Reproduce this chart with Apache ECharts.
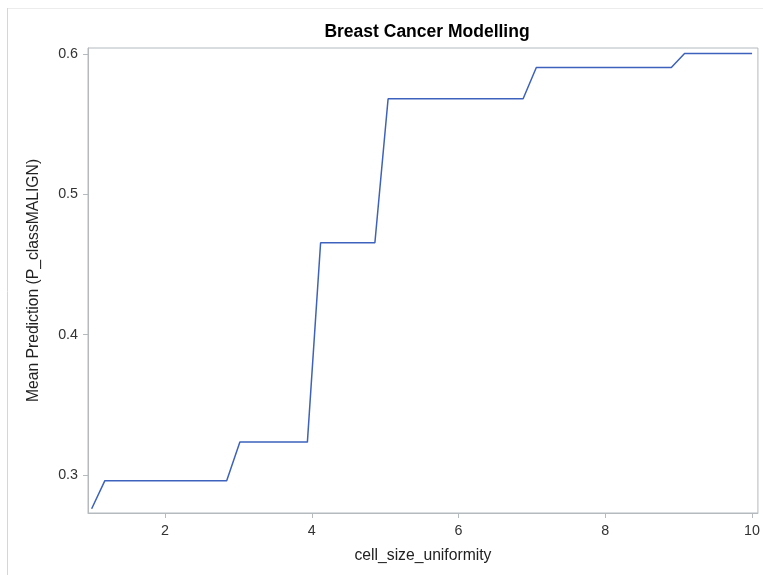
<!DOCTYPE html>
<html>
<head>
<meta charset="utf-8">
<script src="https://cdn.jsdelivr.net/npm/echarts@6/dist/echarts.min.js"></script>
<style>
html,body{margin:0;padding:0;background:#fff;}
#c{width:763px;height:575px;}
</style>
</head>
<body>
<div id="c"></div>
<script>
// Data
const xValues = [1, 1.18, 2.84, 3.02, 3.94, 4.12, 4.86, 5.04, 6.88, 7.06, 8.90, 9.08, 10];
const yValues = [0.2757, 0.2958, 0.2958, 0.3233, 0.3233, 0.4656, 0.4656, 0.5684, 0.5684, 0.5907, 0.5907, 0.6007, 0.6007];
const xTicks = [2, 4, 6, 8, 10];
const yTicks = [0.3, 0.4, 0.5, 0.6];
const titleText = 'Breast Cancer Modelling';
const xName = 'cell_size_uniformity';
const yName = 'Mean Prediction (P_classMALIGN)';

const FONT = '"Liberation Sans", Arial, sans-serif';
const AXIS = '#b4babe';
const chart = echarts.init(document.getElementById('c'), null, {renderer: 'canvas'});
const option = {
  backgroundColor: '#fff',
  animation: false,
  title: {
    text: titleText,
    left: 422, top: 18, textAlign: 'center',
    textStyle: {fontFamily: FONT, fontSize: 17.5, fontWeight: 'bold', color: '#000'}
  },
  grid: {left: 88, right: 5, top: 48, bottom: 62, show: true, borderColor: AXIS, borderWidth: 1, backgroundColor: 'transparent'},
  graphic: [
    {type: 'line', shape: {x1: 7, y1: 8.5, x2: 763, y2: 8.5}, style: {stroke: '#ececec', lineWidth: 1}, silent: true},
    {type: 'line', shape: {x1: 7.5, y1: 8, x2: 7.5, y2: 575}, style: {stroke: '#d6d6d6', lineWidth: 1}, silent: true}
  ],
  xAxis: {
    type: 'value', min: 0.95, max: 10.08,
    name: xName, nameLocation: 'middle', nameGap: 35,
    nameTextStyle: {fontFamily: FONT, fontSize: 15.7, color: '#222'},
    axisLine: {show: true, lineStyle: {color: AXIS}},
    axisTick: {show: true, length: 5, lineStyle: {color: AXIS}, customValues: xTicks},
    axisLabel: {fontFamily: FONT, fontSize: 14.3, color: '#333', margin: 11, customValues: xTicks, formatter: v => String(v)},
    splitLine: {show: false}
  },
  yAxis: {
    type: 'value', min: 0.2727, max: 0.6046,
    name: yName, nameLocation: 'middle', nameGap: 46,
    nameTextStyle: {fontFamily: FONT, fontSize: 15.7, color: '#222'},
    axisLine: {show: true, lineStyle: {color: AXIS}},
    axisTick: {show: true, length: 5, lineStyle: {color: AXIS}, customValues: yTicks},
    axisLabel: {fontFamily: FONT, fontSize: 14.3, color: '#333', margin: 10, customValues: yTicks, formatter: v => (Math.round(v * 10) / 10).toFixed(1)},
    splitLine: {show: false}
  },
  series: [{
    type: 'line',
    data: xValues.map((x, i) => [x, yValues[i]]),
    showSymbol: false,
    lineStyle: {color: '#3d62bd', width: 1.5},
    itemStyle: {color: '#3d62bd'}
  }]
};
chart.setOption(option);
</script>
</body>
</html>
